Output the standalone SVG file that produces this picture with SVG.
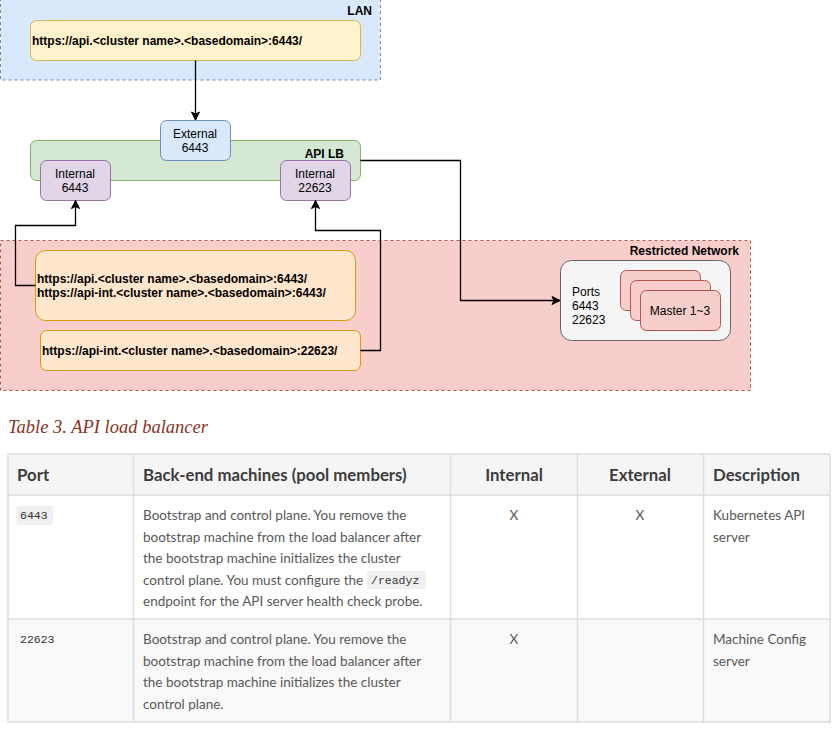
<svg xmlns="http://www.w3.org/2000/svg" width="838" height="731" viewBox="0 0 838 731">
<defs>
<marker id="arr" markerUnits="userSpaceOnUse" markerWidth="10" markerHeight="10" viewBox="0 0 10 10" refX="9" refY="5" orient="auto">
<path d="M1,1 L9,5 L1,9 L3,5 z" fill="#000" stroke="#000" stroke-width="1"/>
</marker>
</defs>
<style>
.lbl{font-family:"Liberation Sans",Arial,sans-serif;font-size:12px;fill:#000}
.b{font-weight:bold}
.mid{text-anchor:middle}
.end{text-anchor:end}
.conn{fill:none;stroke:#000;stroke-width:1.3}
.th{font-family:Lato,"Liberation Sans",sans-serif;font-size:16.8px;font-weight:bold;fill:#3c3c3c}
.td{font-family:Lato,"Liberation Sans",sans-serif;font-size:13.5px;fill:#585858}
.code{font-family:"Liberation Mono",monospace;font-size:11.5px;fill:#333}
.grid{stroke:#dddddd;stroke-width:1.5;fill:none}
</style>
<rect width="838" height="731" fill="#ffffff"/>

<g id="lan">
<rect x="0.5" y="-5" width="380" height="85" fill="#dae8fc" stroke="#6c8ebf" stroke-dasharray="3 3"/>
<text class="lbl b end" x="372" y="15">LAN</text>
</g>
<g id="restricted-network">
<rect x="0.5" y="240.5" width="750" height="150" fill="#f8cecc" stroke="#b85450" stroke-dasharray="3 3"/>
<text class="lbl b end" x="739" y="255">Restricted Network</text>
</g>
<g id="api-lb">
<rect x="30.5" y="140.5" width="330" height="40" rx="6" fill="#d5e8d4" stroke="#82b366"/>
<text class="lbl b end" x="344" y="158">API LB</text>
</g>
<g id="lan-url">
<rect x="30.5" y="20.5" width="330" height="40" rx="6" fill="#fff2cc" stroke="#d6b656"/>
<text class="lbl b" x="32" y="45">https://api.&lt;cluster name&gt;.&lt;basedomain&gt;:6443/</text>
</g>
<g id="external-6443">
<rect x="160.5" y="120.5" width="70" height="40" rx="6" fill="#dae8fc" stroke="#6c8ebf"/>
<text class="lbl mid" x="195" y="138">External</text>
<text class="lbl mid" x="195" y="152">6443</text>
</g>
<g id="internal-6443">
<rect x="40.5" y="160.5" width="70" height="40" rx="6" fill="#e1d5e7" stroke="#9673a6"/>
<text class="lbl mid" x="75" y="178">Internal</text>
<text class="lbl mid" x="75" y="192">6443</text>
</g>
<g id="internal-22623">
<rect x="280.5" y="160.5" width="70" height="40" rx="6" fill="#e1d5e7" stroke="#9673a6"/>
<text class="lbl mid" x="315" y="178">Internal</text>
<text class="lbl mid" x="315" y="192">22623</text>
</g>
<g id="internal-urls">
<rect x="35.5" y="250.5" width="320" height="70" rx="10" fill="#ffe6cc" stroke="#d79b00"/>
<text class="lbl b" x="37" y="283">https://api.&lt;cluster name&gt;.&lt;basedomain&gt;:6443/</text>
<text class="lbl b" x="37" y="297">https://api-int.&lt;cluster name&gt;.&lt;basedomain&gt;:6443/</text>
</g>
<g id="mcs-url">
<rect x="40.5" y="330.5" width="320" height="40" rx="6" fill="#ffe6cc" stroke="#d79b00"/>
<text class="lbl b" x="42" y="355">https://api-int.&lt;cluster name&gt;.&lt;basedomain&gt;:22623/</text>
</g>
<g id="masters">
<rect x="560.5" y="260.5" width="170" height="80" rx="11" fill="#f5f5f5" stroke="#666666"/>
<text class="lbl" x="572" y="296">Ports</text>
<text class="lbl" x="572" y="310">6443</text>
<text class="lbl" x="572" y="324">22623</text>
<rect x="620.5" y="270.5" width="80" height="40" rx="6" fill="#f8cecc" stroke="#b85450"/>
<rect x="630.5" y="280.5" width="80" height="40" rx="6" fill="#f8cecc" stroke="#b85450"/>
<rect x="640.5" y="290.5" width="80" height="40" rx="6" fill="#f8cecc" stroke="#b85450"/>
<text class="lbl mid" x="680" y="315">Master 1~3</text>
</g>
<g id="connectors">
<path class="conn" d="M195.5,60.5 V120" marker-end="url(#arr)"/>
<path class="conn" d="M360.5,160.5 H460.5 V300.5 H560" marker-end="url(#arr)"/>
<path class="conn" d="M35.5,285.5 H15.5 V225.5 H75.5 V200.5" marker-end="url(#arr)"/>
<path class="conn" d="M360.5,350.5 H380.5 V230.5 H315.5 V200.5" marker-end="url(#arr)"/>
</g>

<g id="table">
<text x="8" y="433" font-family="'Liberation Serif',serif" font-style="italic" font-size="18.5" fill="#8a3324">Table 3. API load balancer</text>
<rect x="8" y="454" width="822" height="41" fill="#f5f5f5"/>
<rect x="8" y="619" width="822" height="103" fill="#f9f9f9"/>
<rect class="grid" x="8" y="454" width="822" height="268"/>
<path class="grid" d="M8,495 H830 M8,619 H830 M133.5,454 V722 M450.5,454 V722 M577.5,454 V722 M703.5,454 V722"/>
<text class="th" x="17" y="481">Port</text>
<text class="th" x="143" y="481">Back-end machines (pool members)</text>
<text class="th mid" x="514" y="481">Internal</text>
<text class="th mid" x="640" y="481">External</text>
<text class="th" x="713" y="481">Description</text>

<rect x="16.5" y="506" width="36.5" height="19" fill="#f0f0f0"/>
<text class="code" x="20" y="519">6443</text>
<text class="td" x="143" y="520">Bootstrap and control plane. You remove the</text>
<text class="td" x="143" y="541.5">bootstrap machine from the load balancer after</text>
<text class="td" x="143" y="563">the bootstrap machine initializes the cluster</text>
<text class="td" x="143" y="584.5">control plane. You must configure the</text>
<rect x="367" y="571" width="59" height="18" fill="#f0f0f0"/>
<text class="code" x="371" y="584" font-size="12">/readyz</text>
<text class="td" x="143" y="606">endpoint for the API server health check probe.</text>
<text class="td mid" x="514" y="520">X</text>
<text class="td mid" x="640" y="520">X</text>
<text class="td" x="713" y="520">Kubernetes API</text>
<text class="td" x="713" y="541.5">server</text>

<text class="code" x="20" y="643">22623</text>
<text class="td" x="143" y="644">Bootstrap and control plane. You remove the</text>
<text class="td" x="143" y="665.5">bootstrap machine from the load balancer after</text>
<text class="td" x="143" y="687">the bootstrap machine initializes the cluster</text>
<text class="td" x="143" y="708.5">control plane.</text>
<text class="td mid" x="514" y="644">X</text>
<text class="td" x="713" y="644">Machine Config</text>
<text class="td" x="713" y="665.5">server</text>
</g>
</svg>
